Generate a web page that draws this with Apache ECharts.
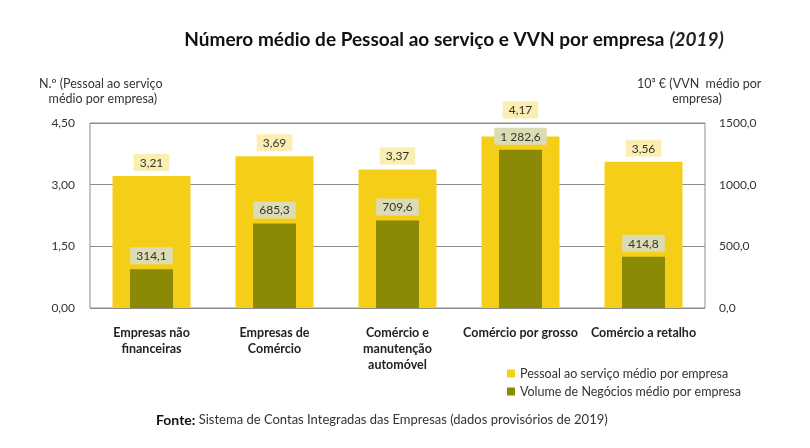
<!DOCTYPE html>
<html>
<head>
<meta charset="utf-8">
<script src="https://cdn.jsdelivr.net/npm/echarts@6/dist/echarts.min.js"></script>
<style>
  html, body { margin: 0; padding: 0; background: #fff; }
  #chart { width: 810px; height: 448px; }
</style>
</head>
<body>
<div id="chart"></div>
<script>
const categories = [
  'Empresas não\nfinanceiras',
  'Empresas de\nComércio',
  'Comércio e\nmanutenção\nautomóvel',
  'Comércio por grosso',
  'Comércio a retalho'
]
const pessoal = [3.21, 3.69, 3.37, 4.17, 3.56]
const vvn = [314.1, 685.3, 709.6, 1282.6, 414.8]
const seriesNames = ['Pessoal ao serviço médio por empresa', 'Volume de Negócios médio por empresa']

const font = 'Lato, "Open Sans", sans-serif'

// formato português: vírgula decimal e espaço nos milhares
const fmt = (v, d, sep) => {
  const parts = v.toFixed(d).split('.')
  if (sep) parts[0] = parts[0].replace(/\B(?=(\d{3})+(?!\d))/g, ' ')
  return parts.join(',')
}

const chart = echarts.init(document.getElementById('chart'))

const option = {
  animation: false,
  backgroundColor: '#fff',
  title: {
    text: '{b|Número médio de Pessoal ao serviço e VVN por empresa} {i|(2019)}',
    left: 449,
    top: 25,
    textAlign: 'center',
    textStyle: {
      rich: {
        b: { fontFamily: font, fontSize: 19, fontWeight: 'bold', color: '#111' },
        i: { fontFamily: font, fontSize: 19, fontStyle: 'italic', color: '#222' }
      }
    }
  },
  grid: { left: 90, right: 105, top: 123, bottom: 140, show: true, borderColor: '#8c8c8c', borderWidth: 1 },
  legend: {
    orient: 'vertical',
    left: 502,
    top: 362,
    itemWidth: 8,
    itemHeight: 8,
    itemGap: 5,
    icon: 'rect',
    textStyle: { fontFamily: font, fontSize: 12.5, color: '#333' },
    data: seriesNames
  },
  graphic: [
    {
      type: 'text', left: 39, top: 76,
      style: { text: 'N.º (Pessoal ao serviço\n   médio por empresa)', font: '12.5px ' + font, fill: '#333', lineHeight: 15 }
    },
    {
      type: 'text', left: 637, top: 76,
      style: { text: '10³ € (VVN  médio por\n           empresa)', font: '12.5px ' + font, fill: '#333', lineHeight: 15 }
    },
    {
      type: 'text', left: 156, top: 413,
      style: {
        text: '{b|Fonte:} {n|Sistema de Contas Integradas das Empresas (dados provisórios de 2019)}',
        rich: {
          b: { fontFamily: font, fontSize: 14, fontWeight: 'bold', fill: '#111' },
          n: { fontFamily: font, fontSize: 13, fill: '#333' }
        }
      }
    }
  ],
  xAxis: [
    {
      type: 'category',
      data: categories,
      axisLine: { show: false },
      axisTick: { show: false },
      axisLabel: { fontFamily: font, fontSize: 12.5, fontWeight: 'bold', color: '#222', margin: 17, lineHeight: 16, interval: 0 }
    },
    {
      type: 'category',
      data: categories,
      show: false
    }
  ],
  yAxis: [
    {
      type: 'value',
      min: 0, max: 4.5, interval: 1.5,
      axisLine: { show: false },
      axisTick: { show: false },
      splitLine: { lineStyle: { color: '#8c8c8c', width: 1 } },
      axisLabel: { fontFamily: font, fontSize: 12, color: '#333', margin: 15, formatter: v => fmt(v, 2) }
    },
    {
      type: 'value',
      min: 0, max: 1500, interval: 500,
      axisLine: { show: false },
      axisTick: { show: false },
      splitLine: { show: false },
      axisLabel: { fontFamily: font, fontSize: 12, color: '#333', margin: 14, formatter: v => fmt(v, 1) }
    }
  ],
  series: [
    {
      name: seriesNames[0],
      type: 'bar',
      xAxisIndex: 0,
      yAxisIndex: 0,
      // rótulo do comércio por grosso afastado para não tapar o do VVN
      data: pessoal.map((v, i) => (i === 3 ? { value: v, label: { distance: 18 } } : v)),
      barWidth: 78,
      itemStyle: { color: '#f5cf17' },
      label: {
        show: true,
        position: 'top',
        distance: 5,
        formatter: p => fmt(p.value, 2, true),
        fontFamily: font, fontSize: 12, color: '#333',
        backgroundColor: '#fbeeb3',
        padding: [3, 6, 2, 6]
      },
      z: 2
    },
    {
      name: seriesNames[1],
      type: 'bar',
      xAxisIndex: 1,
      yAxisIndex: 1,
      data: vvn,
      barWidth: 43,
      itemStyle: { color: '#8a8a06' },
      label: {
        show: true,
        position: 'top',
        distance: 5,
        formatter: p => fmt(p.value, 1, true),
        fontFamily: font, fontSize: 12, color: '#333',
        backgroundColor: '#dcdcb4',
        padding: [3, 6, 2, 6]
      },
      z: 3
    }
  ]
}

chart.setOption(option)
</script>
</body>
</html>
